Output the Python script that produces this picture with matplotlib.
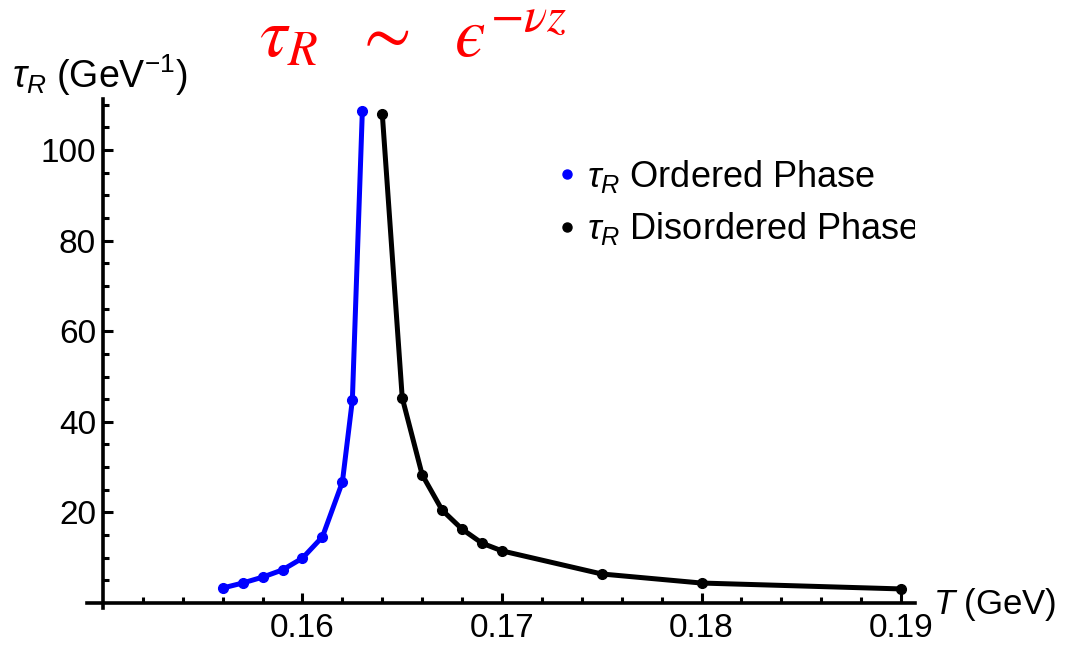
import matplotlib
matplotlib.use("Agg")
import matplotlib.pyplot as plt
from matplotlib.lines import Line2D

plt.rcParams['font.family'] = ['Liberation Sans', 'DejaVu Sans']
plt.rcParams['mathtext.fontset'] = 'custom'
plt.rcParams['mathtext.rm'] = 'Liberation Sans'
plt.rcParams['mathtext.it'] = 'Liberation Sans:italic'

# ordered phase (blue)
t_ord = [0.156, 0.157, 0.158, 0.159, 0.160, 0.161, 0.162, 0.1625, 0.163]
tau_ord = [3.3, 4.4, 5.7, 7.3, 9.9, 14.6, 26.7, 44.8, 108.6]

# disordered phase (black)
t_dis = [0.164, 0.165, 0.166, 0.167, 0.168, 0.169, 0.170, 0.175, 0.180, 0.190]
tau_dis = [108.0, 45.3, 28.3, 20.5, 16.3, 13.2, 11.5, 6.4, 4.4, 3.1]

xticks = [0.16, 0.17, 0.18, 0.19]
xtick_labels = ['0.16', '0.17', '0.18', '0.19']
yticks = [20, 40, 60, 80, 100]

fig = plt.figure(figsize=(10.66, 6.45), dpi=100)
ax = fig.add_axes([87 / 1066, 1 - 608.4 / 645, 828 / 1066, 509 / 645])

ax.plot(t_ord, tau_ord, color='#0000ff', lw=3.6, marker='o', ms=7, clip_on=False)
ax.plot(t_dis, tau_dis, color='black', lw=3.6, marker='o', ms=7, clip_on=False)

ax.set_xlim(0.1492, 0.1907)
ax.set_ylim(-1.2, 111.2)

for s in ['top', 'right']:
    ax.spines[s].set_visible(False)
ax.spines['left'].set_position(('data', 0.15))
ax.spines['bottom'].set_position(('data', 0))
ax.spines['left'].set_linewidth(2.6)
ax.spines['bottom'].set_linewidth(2.6)

ax.set_xticks(xticks)
ax.set_xticklabels(xtick_labels)
ax.set_xticks([0.152 + 0.002 * i for i in range(20) if round((0.152 + 0.002 * i) * 1000) % 10 != 0], minor=True)
ax.set_yticks(yticks)
ax.set_yticks([5, 10, 15, 25, 30, 35, 45, 50, 55, 65, 70, 75, 85, 90, 95, 105, 110], minor=True)
ax.tick_params(which='both', direction='in', width=2.2, labelsize=24)
ax.tick_params(which='major', length=7)
ax.tick_params(which='minor', length=4.5)
ax.tick_params(axis='x', pad=7)
ax.tick_params(axis='y', pad=5)

handles = [Line2D([], [], color='#0000ff', marker='o', ls='none', ms=6.5),
           Line2D([], [], color='black', marker='o', ls='none', ms=6.5)]
leg = ax.legend(handles, [r'$\tau_R$ Ordered Phase', r'$\tau_R$ Disordered Phase'],
                loc='upper left', bbox_to_anchor=(560 / 1066, 1 - 158 / 645),
                bbox_transform=fig.transFigure, frameon=False, fontsize=26,
                handlelength=0.4, handletextpad=0.35, labelspacing=0.42,
                borderpad=0, borderaxespad=0)
for t in leg.get_texts():
    t.set_clip_on(True)
    t.set_clip_box(ax.bbox)

fig.text(12 / 1066, 1 - 88 / 645, r'$\tau_R$ (GeV$^{-1}$)', fontsize=27, va='baseline')
fig.text(933 / 1066, 1 - 614 / 645, r'$T$ (GeV)', fontsize=25, va='baseline')

fig.text(413 / 1066, 1 - 38 / 645, '$\\tau_R\\ \\ \\sim\\ \\ \u03f5^{-\\nu z}$', fontsize=50,
         color='#ff0000', ha='center', va='center', math_fontfamily='stix')

fig.savefig('out.png', dpi=100)
